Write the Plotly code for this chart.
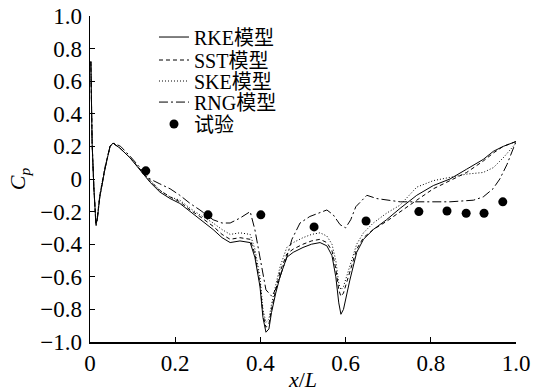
import plotly.graph_objects as go

# ---- data ----
rke_x = [0.002, 0.005, 0.009, 0.012, 0.014, 0.017, 0.019, 0.023, 0.035, 0.047, 0.054, 0.07, 0.094, 0.117, 0.141, 0.164,
         0.188, 0.211, 0.235, 0.258, 0.289, 0.31, 0.329, 0.352, 0.376, 0.387, 0.399, 0.406, 0.413, 0.42, 0.426,
         0.436, 0.446, 0.462, 0.477, 0.5, 0.52, 0.54, 0.556, 0.568, 0.577, 0.584, 0.589, 0.595, 0.603, 0.61,
         0.626, 0.642, 0.665, 0.696, 0.728, 0.767, 0.806, 0.845, 0.884, 0.923, 0.947, 0.97, 1.0]
rke_y = [0.72, 0.22, -0.05, -0.2, -0.28, -0.25, -0.19, -0.11, 0.06, 0.2, 0.22, 0.19, 0.13, 0.055, -0.02, -0.08,
         -0.12, -0.15, -0.2, -0.25, -0.31, -0.36, -0.39, -0.38, -0.39, -0.48, -0.66, -0.85, -0.94, -0.92, -0.82,
         -0.7, -0.6, -0.48, -0.45, -0.42, -0.4, -0.39, -0.41, -0.47, -0.6, -0.76, -0.83, -0.8, -0.7, -0.62,
         -0.45, -0.37, -0.31, -0.25, -0.18, -0.1, -0.04, 0.0, 0.06, 0.12, 0.17, 0.2, 0.23]

sst_x = rke_x
sst_y = [0.72, 0.22, -0.05, -0.2, -0.27, -0.24, -0.18, -0.1, 0.07, 0.2, 0.22, 0.19, 0.13, 0.06, -0.01, -0.07,
         -0.11, -0.14, -0.19, -0.23, -0.29, -0.34, -0.37, -0.36, -0.37, -0.46, -0.64, -0.83, -0.91, -0.89, -0.8,
         -0.68, -0.57, -0.46, -0.43, -0.4, -0.38, -0.37, -0.39, -0.44, -0.55, -0.68, -0.72, -0.7, -0.63, -0.57,
         -0.43, -0.36, -0.31, -0.26, -0.2, -0.13, -0.06, -0.01, 0.04, 0.11, 0.16, 0.2, 0.23]

ske_x = rke_x
ske_y = [0.72, 0.22, -0.05, -0.2, -0.27, -0.24, -0.18, -0.1, 0.07, 0.2, 0.22, 0.19, 0.13, 0.06, -0.01, -0.07,
         -0.11, -0.13, -0.18, -0.22, -0.27, -0.31, -0.34, -0.33, -0.34, -0.43, -0.6, -0.8, -0.88, -0.86, -0.77,
         -0.65, -0.54, -0.42, -0.39, -0.36, -0.34, -0.33, -0.35, -0.4, -0.5, -0.64, -0.68, -0.66, -0.59, -0.53,
         -0.4, -0.33, -0.27, -0.21, -0.16, -0.05, -0.01, 0.01, 0.03, 0.04, 0.07, 0.13, 0.22]

rng_x = [0.002, 0.005, 0.009, 0.012, 0.014, 0.017, 0.019, 0.023, 0.035, 0.047, 0.056, 0.072, 0.094, 0.117, 0.141,
         0.164, 0.188, 0.211, 0.235, 0.258, 0.289, 0.31, 0.329, 0.352, 0.376, 0.387, 0.399, 0.413, 0.427, 0.439,
         0.451, 0.462, 0.474, 0.493, 0.516, 0.556, 0.571, 0.587, 0.6, 0.612, 0.624, 0.643, 0.65, 0.673, 0.697,
         0.728, 0.8, 0.845, 0.9, 0.923, 0.946, 0.962, 0.979, 0.993, 1.0]
rng_y = [0.72, 0.22, -0.05, -0.2, -0.29, -0.25, -0.19, -0.11, 0.06, 0.2, 0.22, 0.2, 0.14, 0.07, 0.0,
         -0.03, -0.06, -0.1, -0.15, -0.19, -0.25, -0.27, -0.27, -0.24, -0.2, -0.31, -0.48, -0.68, -0.72, -0.66,
         -0.56, -0.48, -0.37, -0.27, -0.23, -0.19, -0.22, -0.28, -0.3, -0.25, -0.17, -0.12, -0.1, -0.12, -0.13,
         -0.14, -0.14, -0.14, -0.13, -0.11, -0.06, 0.0, 0.09, 0.18, 0.23]

exp_x = [0.131, 0.277, 0.401, 0.526, 0.648, 0.772, 0.838, 0.883, 0.925, 0.969]
exp_y = [0.05, -0.22, -0.22, -0.294, -0.258, -0.2, -0.196, -0.21, -0.21, -0.14]

names = ["RKE模型", "SST模型", "SKE模型", "RNG模型", "试验"]

x_tickvals = [0, 0.2, 0.4, 0.6, 0.8, 1.0]
x_ticktext = ["0", "0.2", "0.4", "0.6", "0.8", "1.0"]
y_tickvals = [-1.0, -0.8, -0.6, -0.4, -0.2, 0, 0.2, 0.4, 0.6, 0.8, 1.0]
y_ticktext = ["\u22121.0", "\u22120.8", "\u22120.6", "\u22120.4", "\u22120.2", "0", "0.2", "0.4", "0.6", "0.8", "1.0"]

FONT = "Liberation Serif, Noto Sans CJK SC"
TICKFONT = dict(family="Liberation Serif", size=23, color="black")

fig = go.Figure()
fig.add_trace(go.Scatter(x=rke_x, y=rke_y, mode="lines", name=names[0], legend="legend",
                         line=dict(color="black", width=1, dash="solid")))
fig.add_trace(go.Scatter(x=sst_x, y=sst_y, mode="lines", name=names[1], legend="legend2",
                         line=dict(color="black", width=1, dash="4px,3px")))
fig.add_trace(go.Scatter(x=ske_x, y=ske_y, mode="lines", name=names[2], legend="legend3",
                         line=dict(color="black", width=1, dash="1px,2px")))
fig.add_trace(go.Scatter(x=rng_x, y=rng_y, mode="lines", name=names[3], legend="legend4",
                         line=dict(color="black", width=1, dash="9px,3px,2px,3px")))
fig.add_trace(go.Scatter(x=exp_x, y=exp_y, mode="markers", name=names[4], legend="legend5",
                         marker=dict(color="black", size=9, symbol="circle")))

legend_rows = [0.9355, 0.865, 0.8006, 0.736, 0.6687]
leg_common = dict(x=0.1502, xanchor="left", yanchor="middle",
                  font=dict(family=FONT, size=20, color="black"),
                  bgcolor="rgba(0,0,0,0)", itemwidth=30)

fig.update_layout(
    template="none",
    width=537, height=392,
    margin=dict(l=90, r=21, t=16, b=50, autoexpand=False),
    paper_bgcolor="white", plot_bgcolor="white",
    font=dict(family=FONT, size=23, color="black"),
    showlegend=True,
    legend=dict(y=legend_rows[0], **leg_common),
    legend2=dict(y=legend_rows[1], **leg_common),
    legend3=dict(y=legend_rows[2], **leg_common),
    legend4=dict(y=legend_rows[3], **leg_common),
    legend5=dict(y=legend_rows[4], **leg_common),
    xaxis=dict(range=[0, 1.0], tickvals=x_tickvals, ticktext=x_ticktext, automargin=False,
               tickfont=TICKFONT,
               ticks="inside", ticklen=5, tickwidth=1, tickcolor="black",
               showline=True, linecolor="black", linewidth=1.5, mirror=False,
               showgrid=False, zeroline=False,
               title=dict(text="<i>x</i>/<i>L</i>", standoff=3, font=dict(family=FONT, size=22))),
    yaxis=dict(range=[-1.0, 1.0], tickvals=y_tickvals, ticktext=y_ticktext, automargin=False,
               tickfont=TICKFONT,
               ticks="inside", ticklen=5, tickwidth=1, tickcolor="black",
               showline=True, linecolor="black", linewidth=1.5, mirror=False,
               showgrid=False, zeroline=False, ticklabelstandoff=2,
               title=dict(text="<i>C<sub>p</sub></i>", standoff=8, font=dict(family=FONT, size=22))),
)

fig.write_html("out.html",
               config={"displayModeBar": False, "staticPlot": True},
               post_script="document.body.style.margin='0';document.body.style.overflow='hidden';")
